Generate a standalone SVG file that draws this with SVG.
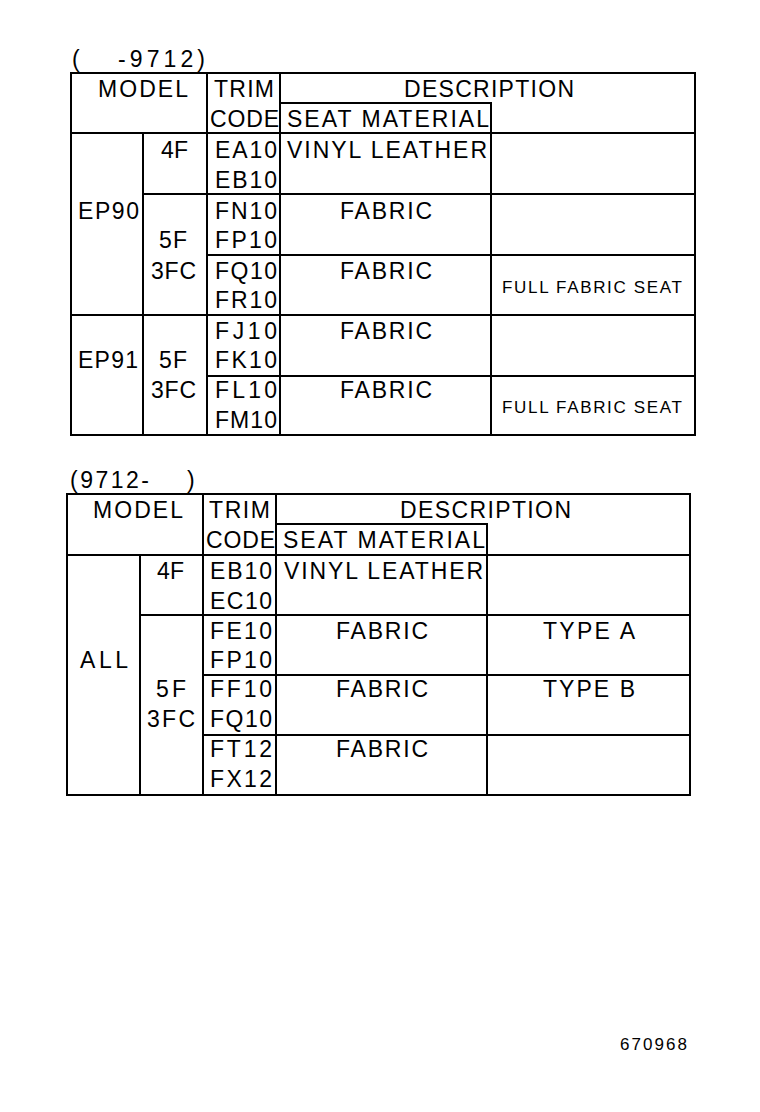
<svg xmlns="http://www.w3.org/2000/svg" width="760" height="1112" viewBox="0 0 760 1112">
<style>
.t{font-family:"Liberation Sans",Arial,sans-serif;font-size:23px;fill:#000}
.s{font-family:"Liberation Sans",Arial,sans-serif;font-size:17px;fill:#000}
.ln line{stroke:#000;stroke-width:2;stroke-linecap:square}
</style>
<rect width="760" height="1112" fill="#fff"/>
<g id="table1">
<g class="ln" id="grid1">
<line x1="71" y1="73" x2="695" y2="73"/>
<line x1="280" y1="103" x2="491" y2="103"/>
<line x1="71" y1="133" x2="695" y2="133"/>
<line x1="143" y1="194" x2="695" y2="194"/>
<line x1="207" y1="255" x2="695" y2="255"/>
<line x1="71" y1="315" x2="695" y2="315"/>
<line x1="207" y1="376" x2="695" y2="376"/>
<line x1="71" y1="435" x2="695" y2="435"/>
<line x1="71" y1="73" x2="71" y2="435"/>
<line x1="695" y1="73" x2="695" y2="435"/>
<line x1="143" y1="133" x2="143" y2="435"/>
<line x1="207" y1="73" x2="207" y2="435"/>
<line x1="280" y1="73" x2="280" y2="435"/>
<line x1="491" y1="103" x2="491" y2="435"/>
</g>
<text class="t" y="67"><tspan x="72">(</tspan><tspan x="118" textLength="87" lengthAdjust="spacing">-9712)</tspan></text>
<text class="t" x="98" y="97" textLength="90" lengthAdjust="spacing">MODEL</text>
<text class="t" x="214" y="97" textLength="60" lengthAdjust="spacing">TRIM</text>
<text class="t" x="404" y="97" textLength="170" lengthAdjust="spacing">DESCRIPTION</text>
<text class="t" x="210" y="127" textLength="69" lengthAdjust="spacing">CODE</text>
<text class="t" x="287" y="127" textLength="202" lengthAdjust="spacing">SEAT MATERIAL</text>
<g id="t1r1">
<text class="t" x="161" y="158" textLength="27" lengthAdjust="spacing">4F</text>
<text class="t" x="215" y="158" textLength="62" lengthAdjust="spacing">EA10</text>
<text class="t" x="215" y="188" textLength="62" lengthAdjust="spacing">EB10</text>
<text class="t" x="287" y="158" textLength="200" lengthAdjust="spacing">VINYL LEATHER</text>
</g>
<g id="t1r2">
<text class="t" x="78" y="219" textLength="61" lengthAdjust="spacing">EP90</text>
<text class="t" x="215" y="219" textLength="62" lengthAdjust="spacing">FN10</text>
<text class="t" x="215" y="248" textLength="62" lengthAdjust="spacing">FP10</text>
<text class="t" x="340" y="219" textLength="92" lengthAdjust="spacing">FABRIC</text>
<text class="t" x="159" y="248" textLength="28" lengthAdjust="spacing">5F</text>
<text class="t" x="151" y="279" textLength="45" lengthAdjust="spacing">3FC</text>
</g>
<g id="t1r3">
<text class="t" x="215" y="279" textLength="62" lengthAdjust="spacing">FQ10</text>
<text class="t" x="215" y="308" textLength="62" lengthAdjust="spacing">FR10</text>
<text class="t" x="340" y="279" textLength="92" lengthAdjust="spacing">FABRIC</text>
<text class="s" x="502" y="293" textLength="180" lengthAdjust="spacing">FULL FABRIC SEAT</text>
</g>
<g id="t1r4">
<text class="t" x="78" y="368" textLength="60" lengthAdjust="spacing">EP91</text>
<text class="t" x="215" y="339" textLength="62" lengthAdjust="spacing">FJ10</text>
<text class="t" x="215" y="368" textLength="62" lengthAdjust="spacing">FK10</text>
<text class="t" x="340" y="339" textLength="92" lengthAdjust="spacing">FABRIC</text>
<text class="t" x="159" y="368" textLength="28" lengthAdjust="spacing">5F</text>
<text class="t" x="151" y="398" textLength="45" lengthAdjust="spacing">3FC</text>
</g>
<g id="t1r5">
<text class="t" x="215" y="398" textLength="62" lengthAdjust="spacing">FL10</text>
<text class="t" x="215" y="428" textLength="62" lengthAdjust="spacing">FM10</text>
<text class="t" x="340" y="398" textLength="92" lengthAdjust="spacing">FABRIC</text>
<text class="s" x="502" y="413" textLength="180" lengthAdjust="spacing">FULL FABRIC SEAT</text>
</g>
</g>
<g id="table2">
<g class="ln" id="grid2">
<line x1="67" y1="494" x2="690" y2="494"/>
<line x1="276" y1="524" x2="487" y2="524"/>
<line x1="67" y1="555" x2="690" y2="555"/>
<line x1="140" y1="615" x2="690" y2="615"/>
<line x1="203" y1="675" x2="690" y2="675"/>
<line x1="203" y1="735" x2="690" y2="735"/>
<line x1="67" y1="795" x2="690" y2="795"/>
<line x1="67" y1="494" x2="67" y2="795"/>
<line x1="690" y1="494" x2="690" y2="795"/>
<line x1="140" y1="555" x2="140" y2="795"/>
<line x1="203" y1="494" x2="203" y2="795"/>
<line x1="276" y1="494" x2="276" y2="795"/>
<line x1="487" y1="524" x2="487" y2="795"/>
</g>
<text class="t" y="488"><tspan x="70" textLength="79" lengthAdjust="spacing">(9712-</tspan><tspan x="187">)</tspan></text>
<text class="t" x="93" y="518" textLength="90" lengthAdjust="spacing">MODEL</text>
<text class="t" x="209" y="518" textLength="61" lengthAdjust="spacing">TRIM</text>
<text class="t" x="400" y="518" textLength="171" lengthAdjust="spacing">DESCRIPTION</text>
<text class="t" x="206" y="548" textLength="69" lengthAdjust="spacing">CODE</text>
<text class="t" x="283" y="548" textLength="202" lengthAdjust="spacing">SEAT MATERIAL</text>
<g id="t2r1">
<text class="t" x="157" y="579" textLength="27" lengthAdjust="spacing">4F</text>
<text class="t" x="210" y="579" textLength="62" lengthAdjust="spacing">EB10</text>
<text class="t" x="210" y="609" textLength="62" lengthAdjust="spacing">EC10</text>
<text class="t" x="284" y="579" textLength="199" lengthAdjust="spacing">VINYL LEATHER</text>
</g>
<g id="t2r2">
<text class="t" x="80" y="668" textLength="48" lengthAdjust="spacing">ALL</text>
<text class="t" x="210" y="639" textLength="62" lengthAdjust="spacing">FE10</text>
<text class="t" x="210" y="668" textLength="62" lengthAdjust="spacing">FP10</text>
<text class="t" x="336" y="639" textLength="92" lengthAdjust="spacing">FABRIC</text>
<text class="t" x="543" y="639" textLength="92" lengthAdjust="spacing">TYPE A</text>
</g>
<g id="t2r3">
<text class="t" x="156" y="697" textLength="30" lengthAdjust="spacing">5F</text>
<text class="t" x="147" y="727" textLength="48" lengthAdjust="spacing">3FC</text>
<text class="t" x="210" y="697" textLength="62" lengthAdjust="spacing">FF10</text>
<text class="t" x="210" y="727" textLength="62" lengthAdjust="spacing">FQ10</text>
<text class="t" x="336" y="697" textLength="92" lengthAdjust="spacing">FABRIC</text>
<text class="t" x="543" y="697" textLength="92" lengthAdjust="spacing">TYPE B</text>
</g>
<g id="t2r4">
<text class="t" x="210" y="757" textLength="62" lengthAdjust="spacing">FT12</text>
<text class="t" x="210" y="787" textLength="62" lengthAdjust="spacing">FX12</text>
<text class="t" x="336" y="757" textLength="92" lengthAdjust="spacing">FABRIC</text>
</g>
</g>
<text id="docno" class="s" x="620" y="1050" textLength="67" lengthAdjust="spacing">670968</text>
</svg>
